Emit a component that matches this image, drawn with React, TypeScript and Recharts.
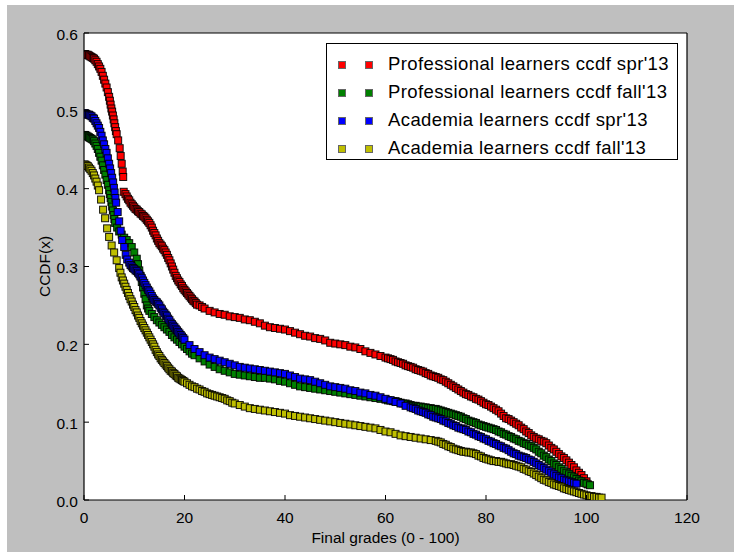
import {
  ScatterChart,
  Scatter,
  XAxis,
  YAxis,
  Legend,
} from 'recharts'

// CCDF readings, [grade, ccdf]
const proSpring: [number, number][] = [
  [0, 0.573], [0.5, 0.572], [1, 0.571], [1.5, 0.569], [2, 0.567], [2.5, 0.563], [3, 0.557], [3.5, 0.55],
  [4, 0.54], [4.5, 0.53], [5, 0.518], [5.3, 0.508], [5.6, 0.499], [5.9, 0.489], [6.2, 0.479], [6.5, 0.47],
  [6.8, 0.462], [7.1, 0.452], [7.3, 0.442], [7.5, 0.432], [7.7, 0.422], [7.8, 0.415],
  [7.9, 0.396], [8.5, 0.39], [9, 0.385], [9.5, 0.38], [10, 0.376], [10.5, 0.373], [11, 0.37], [11.5, 0.367],
  [12, 0.364], [12.5, 0.36], [13, 0.356], [13.5, 0.35], [14, 0.343], [14.5, 0.336], [15, 0.33], [15.5, 0.326],
  [16, 0.321], [16.5, 0.315], [17, 0.308], [17.5, 0.3], [18, 0.292], [18.5, 0.285], [19, 0.28], [19.5, 0.275],
  [20, 0.27], [20.5, 0.266], [21, 0.262], [21.5, 0.258], [22, 0.255], [22.5, 0.251], [23, 0.25], [23.5, 0.248],
  [24, 0.246], [25, 0.243], [26, 0.241], [27, 0.239], [28, 0.238], [29, 0.236], [30, 0.235], [31, 0.234],
  [32, 0.232], [33, 0.231], [34, 0.229], [35, 0.227], [36, 0.224], [37, 0.222], [38, 0.221], [39, 0.22],
  [40, 0.219], [41, 0.217], [42, 0.215], [43, 0.213], [44, 0.211], [45, 0.21], [46, 0.208], [47, 0.207],
  [48, 0.205], [49, 0.202], [50, 0.201], [51, 0.2], [52, 0.199], [53, 0.197], [54, 0.196], [55, 0.194],
  [56, 0.191], [57, 0.189], [58, 0.187], [59, 0.185], [60, 0.183], [61, 0.181], [62, 0.178], [63, 0.176],
  [64, 0.173], [65, 0.171], [66, 0.168], [67, 0.166], [68, 0.163], [69, 0.16], [70, 0.158], [71, 0.155],
  [72, 0.152], [73, 0.148], [74, 0.144], [75, 0.14], [76, 0.136], [77, 0.133], [78, 0.13], [79, 0.127],
  [80, 0.123], [81, 0.12], [82, 0.116], [83, 0.111], [84, 0.105], [85, 0.102], [86, 0.098], [87, 0.093],
  [88, 0.088], [89, 0.083], [90, 0.079], [91, 0.076], [92, 0.073], [93, 0.067], [94, 0.062], [95, 0.056],
  [96, 0.051], [97, 0.045], [98, 0.038], [99, 0.032], [99.5, 0.028], [100, 0.024], [100.3, 0.02],
]
// denser stretches of the red curve
const proSpringDense: [number, number][] = [
  [0.25, 0.573], [0.75, 0.572], [1.25, 0.57], [1.75, 0.568], [2.25, 0.565], [2.75, 0.56], [3.25, 0.554],
  [3.75, 0.545], [4.25, 0.535], [4.75, 0.524], [5.15, 0.513], [5.45, 0.503], [5.75, 0.494], [6.05, 0.484],
  [6.35, 0.474],
  [8.25, 0.393], [8.75, 0.387], [9.25, 0.382], [9.75, 0.378], [10.25, 0.374], [10.75, 0.371], [11.25, 0.368],
  [11.75, 0.365], [12.25, 0.362], [12.75, 0.358], [13.25, 0.353], [13.75, 0.346], [14.25, 0.34], [14.75, 0.333],
  [15.25, 0.328], [15.75, 0.323], [16.25, 0.318], [16.75, 0.311], [17.25, 0.304], [17.75, 0.296], [18.25, 0.288],
  [18.75, 0.282], [19.25, 0.277], [19.75, 0.272], [20.25, 0.268], [20.75, 0.264], [21.25, 0.26], [21.75, 0.256],
  [22.25, 0.253],
  [60.5, 0.182], [61.5, 0.18], [62.5, 0.177], [63.5, 0.175], [64.5, 0.172], [65.5, 0.17], [66.5, 0.167],
  [67.5, 0.165], [68.5, 0.162], [69.5, 0.159], [70.5, 0.157], [71.5, 0.154], [72.5, 0.15], [73.5, 0.146],
  [74.5, 0.142], [75.5, 0.138], [76.5, 0.135], [77.5, 0.132], [78.5, 0.129], [79.5, 0.125], [80.5, 0.122],
  [81.5, 0.118], [82.5, 0.114], [83.5, 0.108], [84.5, 0.104], [85.5, 0.1], [86.5, 0.096], [87.5, 0.091],
  [88.5, 0.086], [89.5, 0.081], [90.5, 0.078], [91.5, 0.075], [92.5, 0.07], [93.5, 0.065], [94.5, 0.059],
  [95.5, 0.054], [96.5, 0.048], [97.5, 0.042], [98.5, 0.035],
]

const proFall: [number, number][] = [
  [0, 0.469], [0.5, 0.468], [1, 0.466], [1.5, 0.464], [2, 0.461], [2.5, 0.455], [3, 0.446], [3.5, 0.436],
  [4, 0.424], [4.5, 0.411], [5, 0.398], [5.3, 0.388], [5.6, 0.377], [5.9, 0.366], [6.2, 0.356], [6.6, 0.35],
  [7, 0.345], [7.5, 0.341], [8, 0.337], [8.5, 0.334], [9, 0.33], [9.5, 0.325], [10, 0.318], [10.5, 0.31],
  [11, 0.295], [11.5, 0.28], [12, 0.265], [12.5, 0.25], [13, 0.243], [14, 0.235], [15, 0.228], [16, 0.222],
  [17, 0.216], [18, 0.209], [19, 0.203], [20, 0.197], [21, 0.191], [22, 0.186], [23, 0.182], [24, 0.178],
  [25, 0.174], [26, 0.171], [27, 0.168], [28, 0.166], [29, 0.164], [30, 0.162], [31, 0.161], [32, 0.16],
  [33, 0.159], [34, 0.158], [35, 0.157], [36, 0.157], [37, 0.156], [38, 0.155], [39, 0.153], [40, 0.152],
  [41, 0.15], [42, 0.148], [43, 0.146], [44, 0.145], [45, 0.144], [46, 0.143], [47, 0.142], [48, 0.141],
  [49, 0.14], [50, 0.139], [51, 0.138], [52, 0.137], [53, 0.136], [54, 0.135], [55, 0.134], [56, 0.133],
  [57, 0.132], [58, 0.131], [59, 0.13], [60, 0.129], [61, 0.128], [62, 0.127], [63, 0.125], [64, 0.124],
  [65, 0.122], [66, 0.121], [67, 0.12], [68, 0.119], [69, 0.118], [70, 0.117], [71, 0.115], [72, 0.113],
  [73, 0.111], [74, 0.109], [75, 0.107], [76, 0.104], [77, 0.101], [78, 0.099], [79, 0.096], [80, 0.094],
  [81, 0.092], [82, 0.09], [83, 0.087], [84, 0.084], [85, 0.081], [86, 0.078], [87, 0.075], [88, 0.072],
  [89, 0.069], [90, 0.065], [91, 0.06], [92, 0.055], [93, 0.05], [94, 0.045], [95, 0.04], [96, 0.035],
  [97, 0.031], [98, 0.027], [99, 0.024], [100, 0.021], [100.7, 0.019],
]
const proFallDense: [number, number][] = [
  [0.25, 0.469], [0.75, 0.467], [1.25, 0.465], [1.75, 0.463], [2.25, 0.458], [2.75, 0.451], [3.25, 0.441],
  [3.75, 0.43], [4.25, 0.418], [4.75, 0.405], [5.15, 0.393], [5.45, 0.383], [5.75, 0.372], [6.05, 0.361],
  [10.75, 0.303], [11.25, 0.288], [11.75, 0.273], [12.25, 0.258], [12.75, 0.246], [13.5, 0.239], [14.5, 0.231],
  [15.5, 0.225], [16.5, 0.219], [17.5, 0.212], [18.5, 0.206], [19.5, 0.2], [20.5, 0.194], [21.5, 0.188],
  [60.5, 0.128], [61.5, 0.127], [62.5, 0.126], [63.5, 0.124], [64.5, 0.123], [65.5, 0.121], [66.5, 0.12],
  [67.5, 0.119], [68.5, 0.118], [69.5, 0.117], [70.5, 0.116], [71.5, 0.114], [72.5, 0.112], [73.5, 0.11],
  [74.5, 0.108], [75.5, 0.105], [76.5, 0.102], [77.5, 0.1], [78.5, 0.097], [79.5, 0.095], [80.5, 0.093],
  [81.5, 0.091], [82.5, 0.088], [83.5, 0.085], [84.5, 0.082], [85.5, 0.079], [86.5, 0.076], [87.5, 0.073],
  [88.5, 0.07], [89.5, 0.067], [90.5, 0.062], [91.5, 0.057], [92.5, 0.052], [93.5, 0.047], [94.5, 0.042],
  [95.5, 0.037], [96.5, 0.033], [97.5, 0.029], [98.5, 0.025], [99.5, 0.022],
]

const acadSpring: [number, number][] = [
  [0, 0.497], [0.5, 0.496], [1, 0.495], [1.5, 0.493], [2, 0.49], [2.5, 0.484], [3, 0.478], [3.5, 0.468],
  [4, 0.457], [4.5, 0.446], [5, 0.432], [5.4, 0.42], [5.8, 0.408], [6.1, 0.395], [6.4, 0.382], [6.7, 0.37],
  [7, 0.358], [7.3, 0.346], [7.6, 0.334], [8, 0.325], [8.3, 0.315], [8.6, 0.309], [9, 0.305], [9.5, 0.3],
  [10, 0.297], [10.5, 0.294], [11, 0.29], [11.5, 0.285], [12, 0.279], [12.5, 0.273], [13, 0.268], [13.5, 0.262],
  [14, 0.257], [14.5, 0.254], [15, 0.25], [15.5, 0.245], [16, 0.24], [16.5, 0.236], [17, 0.231], [17.5, 0.226],
  [18, 0.222], [18.5, 0.218], [19, 0.214], [19.5, 0.21], [20, 0.206], [21, 0.199], [22, 0.194], [23, 0.19],
  [24, 0.186], [25, 0.183], [26, 0.181], [27, 0.179], [28, 0.177], [29, 0.175], [30, 0.173], [31, 0.171],
  [32, 0.17], [33, 0.169], [34, 0.168], [35, 0.167], [36, 0.166], [37, 0.165], [38, 0.164], [39, 0.163],
  [40, 0.162], [41, 0.16], [42, 0.158], [43, 0.156], [44, 0.155], [45, 0.154], [46, 0.152], [47, 0.15],
  [48, 0.148], [49, 0.146], [50, 0.145], [51, 0.144], [52, 0.143], [53, 0.141], [54, 0.14], [55, 0.138],
  [56, 0.137], [57, 0.135], [58, 0.134], [59, 0.132], [60, 0.13], [61, 0.128], [62, 0.126], [63, 0.124],
  [64, 0.121], [65, 0.119], [66, 0.117], [67, 0.114], [68, 0.112], [69, 0.109], [70, 0.106], [71, 0.104],
  [72, 0.101], [73, 0.098], [74, 0.095], [75, 0.092], [76, 0.09], [77, 0.087], [78, 0.084], [79, 0.081],
  [80, 0.078], [81, 0.075], [82, 0.072], [83, 0.069], [84, 0.066], [85, 0.062], [86, 0.059], [87, 0.056],
  [88, 0.054], [89, 0.051], [90, 0.047], [91, 0.043], [92, 0.039], [93, 0.035], [94, 0.031], [95, 0.028],
  [96, 0.025], [97, 0.023], [98, 0.021],
]
const acadSpringDense: [number, number][] = [
  [0.25, 0.497], [0.75, 0.495], [1.25, 0.494], [1.75, 0.491], [2.25, 0.487], [2.75, 0.481], [3.25, 0.473],
  [3.75, 0.462], [4.25, 0.451], [4.75, 0.439], [5.2, 0.426], [5.6, 0.414], [5.95, 0.401], [6.25, 0.388],
  [9.25, 0.302], [9.75, 0.298], [10.25, 0.295], [10.75, 0.292], [11.25, 0.287], [11.75, 0.282], [12.25, 0.276],
  [12.75, 0.27], [13.25, 0.265], [13.75, 0.259], [14.25, 0.255], [14.75, 0.252], [15.25, 0.247], [15.75, 0.242],
  [16.25, 0.238], [16.75, 0.233], [17.25, 0.228], [17.75, 0.224], [18.25, 0.22], [18.75, 0.216], [19.25, 0.212],
  [19.75, 0.208],
  [65.5, 0.118], [66.5, 0.115], [67.5, 0.113], [68.5, 0.11], [69.5, 0.107], [70.5, 0.105], [71.5, 0.102],
  [72.5, 0.099], [73.5, 0.096], [74.5, 0.093], [75.5, 0.091], [76.5, 0.088], [77.5, 0.085], [78.5, 0.082],
  [79.5, 0.079], [80.5, 0.076], [81.5, 0.073], [82.5, 0.07], [83.5, 0.067], [84.5, 0.064], [85.5, 0.06],
  [86.5, 0.057], [87.5, 0.055], [88.5, 0.052], [89.5, 0.049], [90.5, 0.045], [91.5, 0.041], [92.5, 0.037],
  [93.5, 0.033], [94.5, 0.029], [95.5, 0.026], [96.5, 0.024], [97.5, 0.022],
]

const acadFall: [number, number][] = [
  [0, 0.431], [0.5, 0.43], [1, 0.427], [1.5, 0.423], [2, 0.417], [2.5, 0.409], [3, 0.398], [3.4, 0.386],
  [3.8, 0.373], [4.2, 0.362], [4.6, 0.349], [5, 0.338], [5.5, 0.327], [6, 0.318], [6.5, 0.308], [7, 0.298],
  [7.5, 0.286], [8, 0.278], [8.5, 0.27], [9, 0.262], [9.5, 0.255], [10, 0.248], [10.5, 0.241], [11, 0.234],
  [11.5, 0.227], [12, 0.221], [12.5, 0.215], [13, 0.209], [13.5, 0.203], [14, 0.197], [14.5, 0.19], [15, 0.185],
  [15.5, 0.18], [16, 0.176], [16.5, 0.172], [17, 0.168], [17.5, 0.165], [18, 0.162], [18.5, 0.159], [19, 0.156],
  [19.5, 0.154], [20, 0.152], [21, 0.148], [22, 0.145], [23, 0.142], [24, 0.139], [25, 0.136], [26, 0.134],
  [27, 0.132], [28, 0.13], [29, 0.127], [30, 0.124], [31, 0.122], [32, 0.12], [33, 0.118], [34, 0.117],
  [35, 0.116], [36, 0.115], [37, 0.114], [38, 0.113], [39, 0.112], [40, 0.111], [41, 0.109], [42, 0.108],
  [43, 0.107], [44, 0.106], [45, 0.105], [46, 0.104], [47, 0.103], [48, 0.102], [49, 0.101], [50, 0.1],
  [51, 0.099], [52, 0.098], [53, 0.097], [54, 0.096], [55, 0.095], [56, 0.094], [57, 0.093], [58, 0.092],
  [59, 0.09], [60, 0.088], [61, 0.087], [62, 0.085], [63, 0.083], [64, 0.082], [65, 0.081], [66, 0.08],
  [67, 0.079], [68, 0.078], [69, 0.077], [70, 0.076], [71, 0.074], [72, 0.071], [73, 0.068], [74, 0.065],
  [75, 0.063], [76, 0.062], [77, 0.061], [78, 0.059], [79, 0.056], [80, 0.053], [81, 0.051], [82, 0.05],
  [83, 0.049], [84, 0.047], [85, 0.046], [86, 0.044], [87, 0.042], [88, 0.039], [89, 0.036], [90, 0.032],
  [91, 0.028], [92, 0.025], [93, 0.022], [94, 0.019], [95, 0.017], [96, 0.014], [97, 0.012], [98, 0.01],
  [99, 0.008], [100, 0.006], [101, 0.005], [102, 0.004], [103, 0.003],
]
const acadFallDense: [number, number][] = [
  [0.25, 0.431], [0.75, 0.429], [1.25, 0.425], [1.75, 0.42], [2.25, 0.413], [2.75, 0.404],
  [7.25, 0.292], [7.75, 0.282], [8.25, 0.274], [8.75, 0.266], [9.25, 0.258], [9.75, 0.251], [10.25, 0.244],
  [10.75, 0.237], [11.25, 0.23], [11.75, 0.224], [12.25, 0.218], [12.75, 0.212], [13.25, 0.206], [13.75, 0.2],
  [14.25, 0.193], [14.75, 0.187], [15.25, 0.182], [15.75, 0.178], [16.25, 0.174], [16.75, 0.17], [17.25, 0.166],
  [17.75, 0.163], [18.25, 0.16], [18.75, 0.157], [19.25, 0.155], [19.75, 0.153], [20.5, 0.15], [21.5, 0.146],
  [22.5, 0.143], [23.5, 0.14], [24.5, 0.137], [25.5, 0.135], [26.5, 0.133], [27.5, 0.131], [28.5, 0.128],
  [29.5, 0.125],
  [70.5, 0.075], [71.5, 0.072], [72.5, 0.069], [73.5, 0.066], [74.5, 0.064], [75.5, 0.062], [76.5, 0.061],
  [77.5, 0.06], [78.5, 0.057], [79.5, 0.054], [80.5, 0.052], [81.5, 0.05], [82.5, 0.049], [83.5, 0.048],
  [84.5, 0.046], [85.5, 0.045], [86.5, 0.043], [87.5, 0.04], [88.5, 0.037], [89.5, 0.034], [90.5, 0.03],
  [91.5, 0.026], [92.5, 0.023], [93.5, 0.02], [94.5, 0.018], [95.5, 0.015], [96.5, 0.013], [97.5, 0.011],
  [98.5, 0.009], [99.5, 0.007], [100.5, 0.005], [101.5, 0.004], [102.5, 0.003],
]

const xTicks = [0, 20, 40, 60, 80, 100, 120]
const yTicks = [0, 0.1, 0.2, 0.3, 0.4, 0.5, 0.6]

const toRows = (a: [number, number][], b: [number, number][]) =>
  [...a, ...b].sort((p, q) => p[0] - q[0]).map(([x, y]) => ({ x, y }))

const seriesList = [
  { name: "Professional learners ccdf spr'13", color: '#ff0000', rows: toRows(proSpring, proSpringDense) },
  { name: "Professional learners ccdf fall'13", color: '#008000', rows: toRows(proFall, proFallDense) },
  { name: "Academia learners ccdf spr'13", color: '#0000ff', rows: toRows(acadSpring, acadSpringDense) },
  { name: "Academia learners ccdf fall'13", color: '#bfbf00', rows: toRows(acadFall, acadFallDense) },
]

const font = "'Liberation Sans', Arial, Helvetica, sans-serif"
const TICK = 5

function BottomTick({ x, y, payload }: any) {
  return (
    <g>
      <line x1={x} y1={y} x2={x} y2={y - TICK} stroke="#000" />
      <text x={x} y={y + 17} textAnchor="middle" dominantBaseline="central" fontSize={15.5} fontFamily={font} fill="#000">
        {payload.value}
      </text>
    </g>
  )
}

function LeftTick({ x, y, payload }: any) {
  return (
    <g>
      <line x1={x} y1={y} x2={x + TICK} y2={y} stroke="#000" />
      <text x={x - 6} y={y + 1} textAnchor="end" dominantBaseline="central" fontSize={15.5} fontFamily={font} fill="#000">
        {Number(payload.value).toFixed(1)}
      </text>
    </g>
  )
}

function TopTick({ x, y }: any) {
  return <line x1={x} y1={y} x2={x} y2={y + TICK} stroke="#000" />
}

function RightTick({ x, y }: any) {
  return <line x1={x} y1={y} x2={x - TICK} y2={y} stroke="#000" />
}

function YLabel({ viewBox }: any) {
  const cx = viewBox.x + 44
  const cy = viewBox.y + viewBox.height / 2
  return (
    <text
      x={cx}
      y={cy}
      transform={`rotate(-90, ${cx}, ${cy})`}
      textAnchor="middle"
      dominantBaseline="central"
      fontSize={15.5}
      fontFamily={font}
      fill="#000"
    >
      CCDF(x)
    </text>
  )
}

function squareShape(color: string) {
  return (p: any) => (
    <rect
      x={p.cx - 3.5}
      y={p.cy - 3.5}
      width={7}
      height={7}
      fill={color}
      stroke="#000"
      strokeWidth={1}
      strokeOpacity={0.9}
    />
  )
}

function LegendBox() {
  return (
    <div
      style={{
        width: 352,
        height: 117,
        boxSizing: 'border-box',
        border: '1px solid #000',
        background: '#fff',
        paddingTop: 6,
        fontFamily: font,
        fontSize: 18.5,
        letterSpacing: 0.4,
      }}
    >
      {seriesList.map((s) => (
        <div key={s.name} style={{ height: 28, display: 'flex', alignItems: 'center', position: 'relative' }}>
          <span style={{ position: 'absolute', left: 11, width: 6, height: 6, background: s.color, border: '0.5px solid #666', top: 11 }} />
          <span style={{ position: 'absolute', left: 38, width: 6, height: 6, background: s.color, border: '0.5px solid #666', top: 11 }} />
          <span style={{ position: 'absolute', left: 61, whiteSpace: 'nowrap', color: '#000' }}>{s.name}</span>
        </div>
      ))}
    </div>
  )
}

export default function App() {
  return (
    <div style={{ position: 'absolute', left: 0, top: 0, width: 734, height: 552, background: '#fff' }}>
      <div style={{ position: 'absolute', left: 7, top: 5, right: 0, bottom: 0, background: '#bfbfbf' }} />
      <div style={{ position: 'absolute', left: 84, top: 33, width: 603, height: 467, background: '#fff' }} />
      <div style={{ position: 'absolute', left: 0, top: 0 }}>
        <ScatterChart width={734} height={552} margin={{ top: 0, right: 0, bottom: 0, left: 0 }}>
          <XAxis
            type="number"
            dataKey="x"
            domain={[0, 120]}
            ticks={xTicks}
            allowDataOverflow
            height={52}
            tickSize={0}
            tickMargin={0}
            tickLine={false}
            axisLine={{ stroke: '#000', strokeWidth: 1.2 }}
            tick={<BottomTick />}
            label={{
              value: 'Final grades (0 - 100)',
              position: 'insideBottom',
              offset: 9,
              fontSize: 15.5,
              fontFamily: font,
              fill: '#000',
            }}
          />
          <XAxis
            xAxisId="top"
            orientation="top"
            type="number"
            domain={[0, 120]}
            ticks={xTicks}
            height={33}
            tickSize={0}
            tickMargin={0}
            tickLine={false}
            axisLine={{ stroke: '#000', strokeWidth: 1.2 }}
            tick={<TopTick />}
          />
          <YAxis
            type="number"
            dataKey="y"
            domain={[0, 0.6]}
            ticks={yTicks}
            allowDataOverflow
            width={84}
            tickSize={0}
            tickMargin={0}
            tickLine={false}
            axisLine={{ stroke: '#000', strokeWidth: 1.2 }}
            tick={<LeftTick />}
            label={{ content: <YLabel /> }}
          />
          <YAxis
            yAxisId="right"
            orientation="right"
            type="number"
            domain={[0, 0.6]}
            ticks={yTicks}
            width={47}
            tickSize={0}
            tickMargin={0}
            tickLine={false}
            axisLine={{ stroke: '#000', strokeWidth: 1.2 }}
            tick={<RightTick />}
          />
          {seriesList.map((s) => (
            <Scatter
              key={s.name}
              name={s.name}
              data={s.rows}
              fill={s.color}
              shape={squareShape(s.color)}
              isAnimationActive={false}
            />
          ))}
          <Legend
            layout="vertical"
            align="center"
            verticalAlign="middle"
            content={<LegendBox />}
            wrapperStyle={{ left: 326, top: 43, width: 352, height: 117 }}
          />
        </ScatterChart>
      </div>
    </div>
  )
}
